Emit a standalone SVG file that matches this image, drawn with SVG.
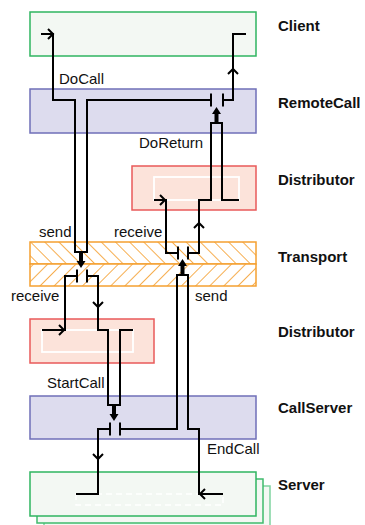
<svg xmlns="http://www.w3.org/2000/svg" width="365" height="525" viewBox="0 0 365 525">
<style>
.lbl{font-family:"Liberation Sans",Arial,sans-serif;font-size:15px;fill:#111}
.name{font-family:"Liberation Sans",Arial,sans-serif;font-size:15px;font-weight:bold;fill:#111}
.green{fill:#f3f8f3;stroke:#2fb560;stroke-width:1.5}
.lav{fill:#dddcee;stroke:#6f6fb8;stroke-width:1.5}
.dist{fill:#fce3da;stroke:#e95a5a;stroke-width:1.5}
.inner{fill:none;stroke:#ffffff;stroke-width:1.8}
.wire{fill:none;stroke:#000;stroke-width:2}
.plate{fill:none;stroke:#000;stroke-width:2}
.chev{fill:none;stroke:#000;stroke-width:2}
.thick{fill:#000}
</style>
<defs>
<pattern id="hatchBack" width="10" height="10" patternUnits="userSpaceOnUse" patternTransform="rotate(-45)">
<rect width="10" height="10" fill="#ffffff"/>
<line x1="0" y1="0" x2="0" y2="10" stroke="#f5a030" stroke-width="1.7"/>
</pattern>
<pattern id="hatchFwd" width="10" height="10" patternUnits="userSpaceOnUse" patternTransform="rotate(45)">
<rect width="10" height="10" fill="#ffffff"/>
<line x1="0" y1="0" x2="0" y2="10" stroke="#f5a030" stroke-width="1.7"/>
</pattern>
<path id="chev" class="chev" d="M-5,-5 L0,0 L-5,5"/>
<polygon id="thick" class="thick" points="-2,0 2,0 2,9 4.5,9 0,16 -4.5,9 -2,9"/>
</defs>

<g id="client">
<rect class="green" x="30" y="12" width="226" height="44"/>
<text class="name" x="278" y="30.5">Client</text>
</g>

<g id="remotecall">
<rect class="lav" x="30" y="89" width="226" height="44"/>
<text class="name" x="278" y="108">RemoteCall</text>
</g>

<g id="distributor-upper">
<rect class="dist" x="132" y="166" width="124" height="44"/>
<rect class="inner" x="154" y="177" width="85" height="23"/>
<text class="name" x="278" y="185">Distributor</text>
</g>

<g id="transport">
<rect x="30" y="242" width="226" height="22" fill="url(#hatchBack)" stroke="#f5a030" stroke-width="1.5"/>
<rect x="30" y="264" width="226" height="22" fill="url(#hatchFwd)" stroke="#f5a030" stroke-width="1.5"/>
<text class="name" x="278" y="262">Transport</text>
</g>

<g id="distributor-lower">
<rect class="dist" x="30" y="319" width="124" height="44"/>
<rect class="inner" x="42" y="330" width="91" height="22"/>
<text class="name" x="278" y="337">Distributor</text>
</g>

<g id="callserver">
<rect class="lav" x="30" y="396" width="226" height="43"/>
<text class="name" x="278" y="413">CallServer</text>
</g>

<g id="server">
<rect x="44" y="486" width="226" height="44" fill="#f3f8f3" stroke="#7fd3a0" stroke-width="1.5"/>
<rect x="37" y="479" width="226" height="44" fill="#f3f8f3" stroke="#3fbb6c" stroke-width="1.5"/>
<rect class="green" x="30" y="472" width="226" height="44"/>
<rect x="76" y="494" width="147" height="11" fill="none" stroke="#ffffff" stroke-width="1.5" stroke-dasharray="6,4"/>
<text class="name" x="278" y="490">Server</text>
</g>

<g id="connectors">
<path class="wire" d="M41,34 H53 V100 H75 V252 H87 V100 H211"/>
<path class="plate" d="M211,93.5 V106.5 M223,93.5 V106.5"/>
<path class="wire" d="M223,100 H233 V34 H246"/>

<path class="wire" d="M154,200 H166 V253 H178"/>
<path class="plate" d="M178,246.5 V259.5 M188,246.5 V259.5"/>
<path class="wire" d="M188,253 H199 V200 H211 V123 H222 V200 H239"/>

<path class="wire" d="M77,276 H65 V330 H42"/>
<path class="plate" d="M77,269.5 V282.5 M87,269.5 V282.5"/>
<path class="wire" d="M87,276 H98 V330 H108 V405 H120 V330 H133"/>

<path class="wire" d="M110,429 H98 V494 H76"/>
<path class="plate" d="M110,422.5 V435.5 M120,422.5 V435.5"/>
<path class="wire" d="M120,429 H177 V275 H188 V429 H199 V494 H223"/>

<use href="#thick" transform="translate(216.5,123) rotate(180)"/>
<use href="#thick" transform="translate(81,252)"/>
<use href="#thick" transform="translate(182.5,275) rotate(180)"/>
<use href="#thick" transform="translate(114,405)"/>

<use href="#chev" transform="translate(53,34)"/>
<use href="#chev" transform="translate(233,69) rotate(-90)"/>
<use href="#chev" transform="translate(165,200)"/>
<use href="#chev" transform="translate(199,223) rotate(-90)"/>
<use href="#chev" transform="translate(64,330)"/>
<use href="#chev" transform="translate(98,307) rotate(90)"/>
<use href="#chev" transform="translate(98,459) rotate(90)"/>
<use href="#chev" transform="translate(200,494) rotate(180)"/>

<text class="lbl" x="59" y="84">DoCall</text>
<text class="lbl" x="139" y="148">DoReturn</text>
<text class="lbl" x="39" y="237">send</text>
<text class="lbl" x="114" y="237">receive</text>
<text class="lbl" x="11" y="301">receive</text>
<text class="lbl" x="195" y="301">send</text>
<text class="lbl" x="47" y="388">StartCall</text>
<text class="lbl" x="207" y="454">EndCall</text>
</g>
</svg>
